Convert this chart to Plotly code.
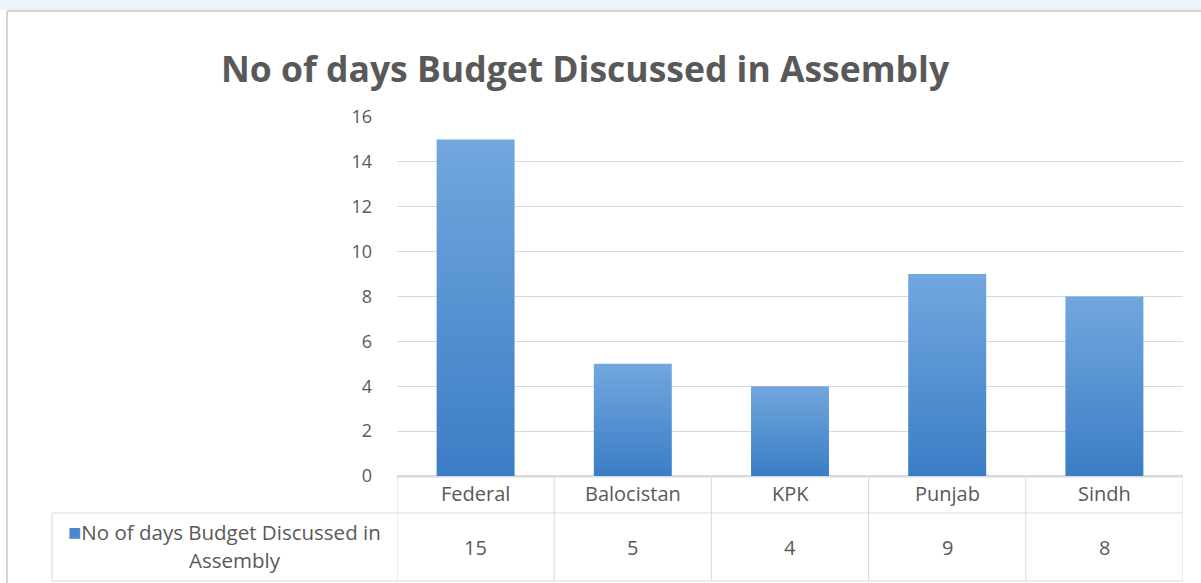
import plotly.graph_objects as go

# ---- data ----
categories = ["Federal", "Balocistan", "KPK", "Punjab", "Sindh"]
values = [15, 5, 4, 9, 8]
series_name = "No of days Budget Discussed in Assembly"
title_text = "No of days Budget Discussed in Assembly"
y_ticks = [0, 2, 4, 6, 8, 10, 12, 14, 16]

# ---- geometry (pixels of the 1201x583 page) ----
W, H = 1201, 583
PL, PR, PT, PB = 397, 1183, 117, 476   # plot area
PW, PH = PR - PL, PB - PT

def px(x):
    return (x - PL) / PW

def py(y):
    return (PB - y) / PH

GRID = "#d9d9d9"
TXT = "#595959"
FONT = "Open Sans"
half = 0.248

fig = go.Figure()

for i, (c, v) in enumerate(zip(categories, values)):
    fig.add_trace(go.Scatter(
        x=[i - half, i + half, i + half, i - half, i - half],
        y=[0, 0, v, v, 0],
        mode="lines",
        line=dict(width=0, color="#4a89cf"),
        fill="toself",
        fillgradient=dict(type="vertical",
                          colorscale=[[0, "#3b7dc6"], [1, "#72a7de"]]),
        name=c,
        showlegend=False,
        hoverinfo="skip",
    ))

shapes = []
# top light strip and chart frame
shapes.append(dict(type="rect", xref="paper", yref="paper",
                   x0=px(0), x1=px(W), y0=py(0), y1=py(10),
                   fillcolor="#eaf4fa", line=dict(width=0), layer="below"))
shapes.append(dict(type="line", xref="paper", yref="paper",
                   x0=px(7), x1=px(W), y0=py(11), y1=py(11),
                   line=dict(color="#d4d4d4", width=2)))
shapes.append(dict(type="line", xref="paper", yref="paper",
                   x0=px(7), x1=px(7), y0=py(11), y1=py(H),
                   line=dict(color="#d4d4d4", width=2)))

# data table lines
tbl_top, tbl_mid, tbl_bot = 477, 513, 581
leg_left = 52
for k in range(len(categories) + 1):
    shapes.append(dict(type="line", xref="x", yref="paper",
                       x0=k - 0.5, x1=k - 0.5, y0=py(tbl_top), y1=py(tbl_bot),
                       line=dict(color=GRID, width=1)))
shapes.append(dict(type="line", xref="paper", yref="paper",
                   x0=px(PL), x1=px(PR), y0=py(tbl_top), y1=py(tbl_top),
                   line=dict(color=GRID, width=1)))
for yy in (tbl_mid, tbl_bot):
    shapes.append(dict(type="line", xref="paper", yref="paper",
                       x0=px(leg_left), x1=px(PR), y0=py(yy), y1=py(yy),
                       line=dict(color=GRID, width=1)))
shapes.append(dict(type="line", xref="paper", yref="paper",
                   x0=px(leg_left), x1=px(leg_left), y0=py(tbl_mid), y1=py(tbl_bot),
                   line=dict(color=GRID, width=1)))

annotations = []
annotations.append(dict(text="<b>" + title_text + "</b>", xref="paper", yref="paper",
                        x=px(585), y=py(68), xanchor="center", yanchor="middle",
                        showarrow=False, font=dict(family=FONT, size=35.5, color=TXT)))
for i, c in enumerate(categories):
    annotations.append(dict(text=c, xref="x", yref="paper", x=i, y=py(494),
                            xanchor="center", yanchor="middle", showarrow=False,
                            font=dict(family=FONT, size=20, color=TXT)))
for i, v in enumerate(values):
    annotations.append(dict(text=str(v), xref="x", yref="paper", x=i, y=py(547),
                            xanchor="center", yanchor="middle", showarrow=False,
                            font=dict(family=FONT, size=20, color=TXT)))
words = series_name.split(" ")
line1 = ("<span style='color:#4a89cf;font-size:22px'>&#9632;</span>"
         + " ".join(words[:-1]))
line2 = words[-1]
annotations.append(dict(text=line1, xref="paper", yref="paper",
                        x=px((leg_left + PL) / 2), y=py(531), xanchor="center",
                        yanchor="middle", showarrow=False,
                        font=dict(family=FONT, size=20.5, color=TXT)))
annotations.append(dict(text=line2, xref="paper", yref="paper",
                        x=px((leg_left + PL) / 2 + 10), y=py(560), xanchor="center",
                        yanchor="middle", showarrow=False,
                        font=dict(family=FONT, size=20.5, color=TXT)))

fig.update_layout(
    width=W, height=H,
    margin=dict(l=PL, r=W - PR, t=PT, b=H - PB, pad=0),
    paper_bgcolor="white", plot_bgcolor="white",
    showlegend=False,
    xaxis=dict(range=[-0.5, len(categories) - 0.5], showticklabels=False,
               showgrid=False, zeroline=False, showline=False, fixedrange=True),
    yaxis=dict(range=[0, 16], tickvals=y_ticks, showgrid=True, gridcolor=GRID,
               gridwidth=1, zeroline=True, zerolinecolor=GRID, showline=False,
               ticks="", ticklabelstandoff=24,
               tickfont=dict(family=FONT, size=18, color=TXT), fixedrange=True),
    shapes=shapes,
    annotations=annotations,
)

fig.write_html("out.html", config={"displayModeBar": False},
               post_script="document.body.style.margin='0';document.body.style.overflow='hidden';")
